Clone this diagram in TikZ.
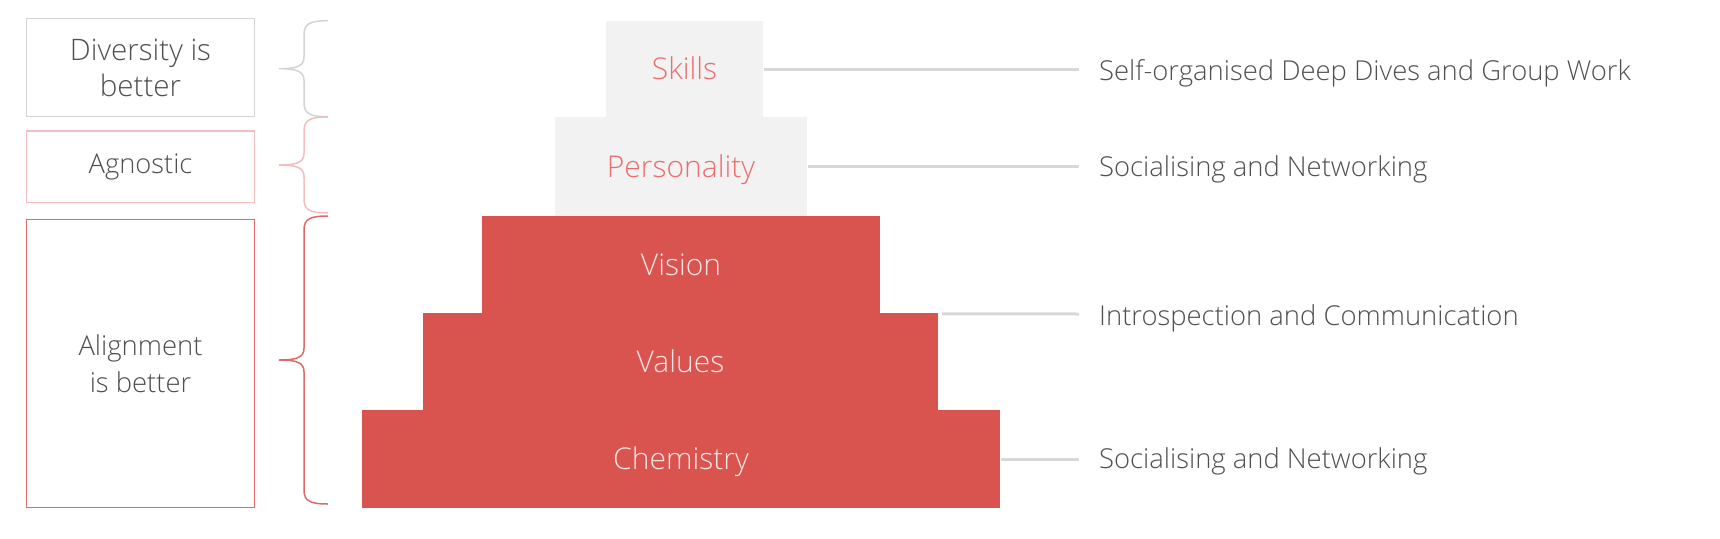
\documentclass[tikz,border=0pt]{standalone}
\usepackage{fontspec}
\IfFontExistsTF{Open Sans Light}{\setmainfont{Open Sans Light}}{\setmainfont{Open Sans}}
\definecolor{pyred}{HTML}{D9534F}
\definecolor{pygray}{HTML}{F2F2F2}
\definecolor{pinktxt}{HTML}{EA6E70}
\definecolor{lighttxt}{HTML}{FBE3E3}
\definecolor{txt}{HTML}{505050}
\definecolor{ln}{HTML}{D8D8D8}
\definecolor{brgray}{HTML}{D4D4D4}
\definecolor{brpink}{HTML}{F5BDBD}
\definecolor{brred}{HTML}{E06A6A}
\tikzset{
  layer/.style={rectangle, inner sep=0pt, text height=21.5pt, text depth=0pt, font=\fontsize{30}{36}\selectfont},
  redlayer/.style={layer, fill=pyred, text=lighttxt},
  graylayer/.style={layer, fill=pygray, text=pinktxt},
  sidebox/.style={rectangle, line width=1.5pt, inner sep=0pt, align=center, text=txt},
  righttext/.style={anchor=base west, inner sep=0pt, text=txt, font=\fontsize{27.4}{32}\selectfont},
  conn/.style={draw=ln, line width=3pt},
  bracestyle/.style={line width=1.5pt}
}
\begin{document}
\begin{tikzpicture}[x=1pt,y=-1pt]
\useasboundingbox (0,0) rectangle (1720,538);
\fill[white] (0,0) rectangle (1720,538);
% pyramid
\node[graylayer, minimum width=157pt, minimum height=96pt] (skills) at (684.5,69) {Skills};
\node[graylayer, minimum width=252pt, minimum height=99pt] (pers) at (681,166.5) {Personality};
\node[redlayer, minimum width=398pt, minimum height=97pt] (vision) at (681,264.5) {Vision};
\node[redlayer, minimum width=515pt, minimum height=97pt] (values) at (680.5,361.5) {Values};
\node[redlayer, minimum width=638pt, minimum height=98pt] (chem) at (681,459) {Chemistry};
% left boxes
\node[sidebox, draw=brgray, minimum width=227.6pt, minimum height=98.4pt, font=\fontsize{29.6}{36}\selectfont] (div) at (140.5,67.5) {Diversity is\\better};
\node[sidebox, draw=brpink, minimum width=227.6pt, minimum height=71.3pt, font=\fontsize{27.3}{36}\selectfont] (agn) at (140.5,166.7) {Agnostic};
\node[sidebox, draw=brred, minimum width=227.6pt, minimum height=288.4pt, font=\fontsize{27.4}{37}\selectfont] (ali) at (140.5,363.5) {Alignment\\is better};
% braces
\foreach \T/\B/\c in {20.7/116.7/brgray, 117/213/brpink, 216/504/brred}{
  \pgfmathsetmacro{\Y}{(\T+\B)/2}
  \draw[bracestyle, draw=\c] (328,\T) .. controls (310,\T) and (304,\T+3) .. (304,\T+14)
     -- (304,\Y-12) .. controls (304,\Y-3) and (298,\Y) .. (279,\Y)
     .. controls (298,\Y) and (304,\Y+3) .. (304,\Y+12)
     -- (304,\B-14) .. controls (304,\B-3) and (310,\B) .. (328,\B);
}
% right texts
\node[righttext] (r1) at (1099,80) {Self-organised Deep Dives and Group Work};
\node[righttext] (r2) at (1099,176.7) {Socialising and Networking};
\node[righttext] (r3) at (1099,325) {Introspection and Communication};
\node[righttext] (r4) at (1099,468) {Socialising and Networking};
% connectors
\coordinate (e1) at (1079,69);
\coordinate (e2) at (1079,166.5);
\coordinate (e3) at (1079,314);
\coordinate (e4) at (1079,459);
\draw[conn] ([xshift=1pt]skills.east) -- (e1);
\draw[conn] ([xshift=1pt]pers.east) -- (e2);
\draw[conn] ([xshift=4pt,yshift=-1pt]values.north east) -- (e3);
\draw[conn] ([xshift=1pt]chem.east) -- (e4);
\end{tikzpicture}
\end{document}
